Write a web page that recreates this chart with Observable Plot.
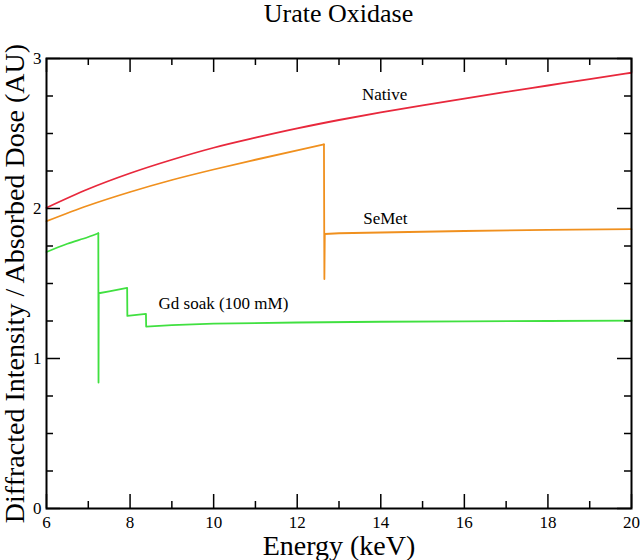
<!DOCTYPE html>
<html><head><meta charset="utf-8">
<script src="https://cdn.jsdelivr.net/npm/d3@7"></script>
<script src="https://cdn.jsdelivr.net/npm/@observablehq/plot@0.6"></script>
<style>
body{margin:0;background:#fff;}
#title{height:30px;width:640px;font-family:"Liberation Serif","Times New Roman",Times,serif;font-size:26px;line-height:28px;text-align:center;padding-left:37px;box-sizing:border-box;color:#000;overflow:visible;}
</style></head><body>
<div id="title">Urate Oxidase</div>
<div id="chart"></div>
<script>
// ---- data ----
const nativeEnergy = [6, 7, 8, 9, 10, 11, 12, 13, 14, 15, 16, 17, 18, 19, 20];
const nativeValue  = [2.005, 2.13, 2.235, 2.325, 2.405, 2.472, 2.534, 2.59, 2.641, 2.688, 2.733, 2.777, 2.82, 2.863, 2.905];

const semetEnergy = [6, 7, 8, 9, 10, 11, 12, 12.64, 12.65, 12.66, 13, 14, 16, 18, 20];
const semetValue  = [1.915, 2.02, 2.11, 2.19, 2.26, 2.325, 2.388, 2.427, 1.53, 1.83, 1.835, 1.84, 1.85, 1.857, 1.862];

const gdEnergy = [6, 6.5, 7, 7.24, 7.245, 7.25, 7.5, 7.93, 7.935, 8.38, 8.385, 9, 10, 12, 14, 16, 18, 20];
const gdValue  = [1.71, 1.765, 1.81, 1.835, 0.84, 1.435, 1.448, 1.471, 1.284, 1.298, 1.213, 1.222, 1.232, 1.24, 1.245, 1.248, 1.25, 1.252];

// last energy of the smooth (pre-edge) part of each curve
const semetEdge = 12.64;
const gdEdge = 7.24;

const seriesNames  = ["Native", "SeMet", "Gd soak (100 mM)"];
const seriesColors = ["#e8283c", "#f0901e", "#40e040"];
const labelEnergy  = [14.09, 14.11, 8.68];
const labelValue   = [2.76, 1.933, 1.367];

const xMajor = [6, 8, 10, 12, 14, 16, 18, 20];
const xMinor = [7, 9, 11, 13, 15, 17, 19];
const yMajor = [0, 1, 2, 3];
const yMinor = [0.25, 0.5, 0.75, 1.25, 1.5, 1.75, 2.25, 2.5, 2.75];

const xTitle = "Energy (keV)";
const yTitle = "Diffracted Intensity / Absorbed Dose (AU)";

// ---- tables ----
const rows = (es, vs, s) => es.map((e, i) => ({e, v: vs[i], s}));
const nativeRows = rows(nativeEnergy, nativeValue, seriesNames[0]);
const semetRows = rows(semetEnergy, semetValue, seriesNames[1]);
const gdRows = rows(gdEnergy, gdValue, seriesNames[2]);
const labels = seriesNames.map((n, i) => ({n, e: labelEnergy[i], v: labelValue[i]}));

// ---- layout ----
const FONT = "Liberation Serif, Times New Roman, Times, serif";
const W = 640, H = 530, mt = 28, mb = 52, ml = 46, mr = 9;
const fh = H - mt - mb, fw = W - ml - mr;
const majorLen = 14, minorLen = 7;
const tk = {stroke: "#000", strokeWidth: 1.5};
const lw = 1.8;

const chart = Plot.plot({
  width: W, height: H,
  marginTop: mt, marginBottom: mb, marginLeft: ml, marginRight: mr,
  style: {fontFamily: FONT, fontSize: "17px", background: "#fff", color: "#000"},
  x: {domain: [6, 20], label: null},
  y: {domain: [0, 3], label: null},
  marks: [
    Plot.line(nativeRows, {x: "e", y: "v", stroke: seriesColors[0], strokeWidth: lw, curve: "monotone-x"}),
    Plot.line(semetRows.filter(d => d.e <= semetEdge), {x: "e", y: "v", stroke: seriesColors[1], strokeWidth: lw, curve: "monotone-x"}),
    Plot.line(semetRows.filter(d => d.e >= semetEdge), {x: "e", y: "v", stroke: seriesColors[1], strokeWidth: lw}),
    Plot.line(gdRows.filter(d => d.e <= gdEdge), {x: "e", y: "v", stroke: seriesColors[2], strokeWidth: lw, curve: "monotone-x"}),
    Plot.line(gdRows.filter(d => d.e >= gdEdge), {x: "e", y: "v", stroke: seriesColors[2], strokeWidth: lw}),
    // inward ticks, bottom & top
    Plot.tickX(xMajor, {x: d => d, insetTop: fh - majorLen, ...tk}),
    Plot.tickX(xMajor, {x: d => d, insetBottom: fh - majorLen, ...tk}),
    Plot.tickX(xMinor, {x: d => d, insetTop: fh - minorLen, ...tk}),
    Plot.tickX(xMinor, {x: d => d, insetBottom: fh - minorLen, ...tk}),
    // inward ticks, left & right
    Plot.tickY(yMajor, {y: d => d, insetRight: fw - majorLen, ...tk}),
    Plot.tickY(yMajor, {y: d => d, insetLeft: fw - majorLen, ...tk}),
    Plot.tickY(yMinor, {y: d => d, insetRight: fw - minorLen, ...tk}),
    Plot.tickY(yMinor, {y: d => d, insetLeft: fw - minorLen, ...tk}),
    Plot.frame({stroke: "#000", strokeWidth: 2}),
    Plot.axisX({ticks: xMajor, tickSize: 0, tickPadding: 7, tickFormat: d => String(d), label: null, fontSize: 17, fontFamily: FONT}),
    Plot.axisY({ticks: yMajor, tickSize: 0, tickPadding: 5, tickFormat: d => String(d), label: null, fontSize: 17, fontFamily: FONT}),
    Plot.text([xTitle], {text: d => d, frameAnchor: "bottom", textAnchor: "middle", dy: 38, fontSize: 28, lineAnchor: "middle", fill: "#000", fontFamily: FONT}),
    Plot.text([yTitle], {text: d => d, frameAnchor: "left", textAnchor: "middle", rotate: -90, dx: -31, fontSize: 28, lineAnchor: "middle", fill: "#000", fontFamily: FONT}),
    Plot.text(labels.slice(0, 2), {x: "e", y: "v", text: "n", fontSize: 17, fill: "#000", textAnchor: "middle", fontFamily: FONT}),
    Plot.text(labels.slice(2), {x: "e", y: "v", text: "n", fontSize: 17, fill: "#000", textAnchor: "start", fontFamily: FONT}),
  ]
});
document.getElementById("chart").appendChild(chart);
</script>
</body></html>
